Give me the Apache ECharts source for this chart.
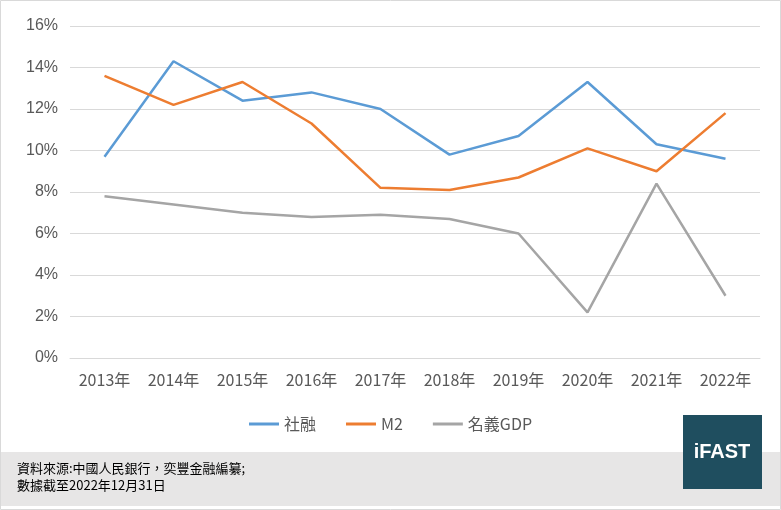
<!DOCTYPE html>
<html><head><meta charset="utf-8">
<script src="https://cdn.jsdelivr.net/npm/echarts@6/dist/echarts.min.js"></script>
<style>html,body{margin:0;padding:0;background:#fff}#c{width:781px;height:510px}</style>
</head><body><div id="c"></div>
<script>
const years = ['2013年','2014年','2015年','2016年','2017年','2018年','2019年','2020年','2021年','2022年'];
const tsf = [9.7, 14.3, 12.4, 12.8, 12.0, 9.8, 10.7, 13.3, 10.3, 9.6];
const m2 = [13.6, 12.2, 13.3, 11.3, 8.2, 8.1, 8.7, 10.1, 9.0, 11.8];
const gdp = [7.8, 7.4, 7.0, 6.8, 6.9, 6.7, 6.0, 2.2, 8.4, 3.0];

const font = 'Noto Sans CJK TC';
let myChart = echarts.init(document.getElementById('c'));
let line = (name, data, color) => ({
    name: name, type: 'line', data: data, symbol: 'none',
    lineStyle: {color: color, width: 2.5}, itemStyle: {color: color}
});
myChart.setOption({
    animation: false,
    textStyle: {fontFamily: font},
    grid: {left: 70, right: 21, top: 26, bottom: 152},
    legend: {
        top: 411, left: 'center', itemGap: 30, itemWidth: 30, itemHeight: 3,
        icon: 'rect', textStyle: {fontSize: 16, color: '#595959', fontFamily: font},
        data: ['社融', 'M2', '名義GDP']
    },
    xAxis: {
        type: 'category', data: years,
        axisLine: {lineStyle: {color: '#d9d9d9'}},
        axisTick: {show: false},
        axisLabel: {color: '#595959', fontSize: 16, margin: 14}
    },
    yAxis: {
        type: 'value', min: 0, max: 16, interval: 2,
        axisLabel: {formatter: '{value}%', color: '#595959', fontSize: 16, margin: 12, fontFamily: 'Liberation Sans'},
        splitLine: {lineStyle: {color: '#d9d9d9'}}
    },
    series: [line('社融', tsf, '#5b9bd5'), line('M2', m2, '#ed7d31'), line('名義GDP', gdp, '#a5a5a5')],
    graphic: [
        {type: 'rect', shape: {x: 0.5, y: 0.5, width: 780, height: 509}, style: {fill: 'none', stroke: '#d9d9d9'}},
        {type: 'rect', shape: {x: 1, y: 452, width: 779, height: 54}, style: {fill: '#e7e6e6'}},
        {type: 'rect', shape: {x: 683, y: 415, width: 79, height: 74}, style: {fill: '#1f4e5f'}},
        {type: 'text', x: 722, y: 452, style: {text: 'iFAST', fill: '#fff', font: 'bold 20px Liberation Sans', textAlign: 'center', textVerticalAlign: 'middle'}},
        {type: 'text', x: 17, y: 460, style: {text: '資料來源:中國人民銀行，奕豐金融編纂;\n數據截至2022年12月31日', fill: '#000', font: '13px "Noto Sans CJK TC"', lineHeight: 17}}
    ]
});
</script></body></html>
